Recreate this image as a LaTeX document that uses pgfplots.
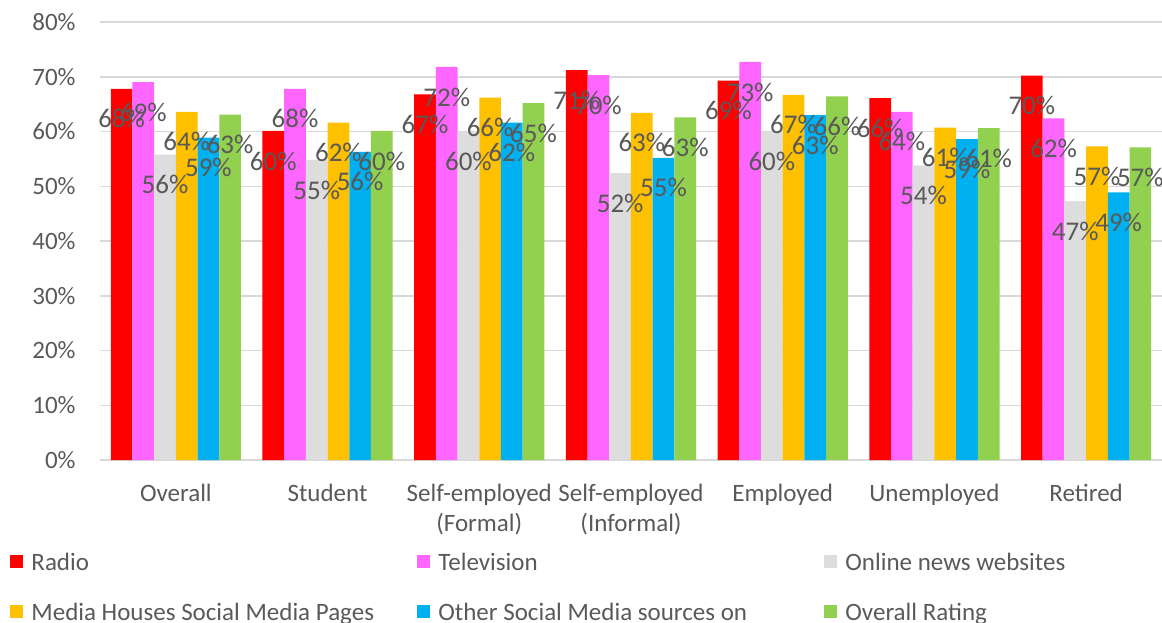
\documentclass[border=0pt]{standalone}
\usepackage{fontspec}
\setmainfont{Carlito}
\usepackage{pgfplots}
\usepackage{pgfplotstable}
\pgfplotsset{compat=1.18}

\definecolor{cRadio}{HTML}{FF0000}
\definecolor{cTV}{HTML}{FF66FF}
\definecolor{cOnline}{HTML}{DDDDDD}
\definecolor{cMedia}{HTML}{FFC000}
\definecolor{cOther}{HTML}{00B0F0}
\definecolor{cOverall}{HTML}{92D050}
\definecolor{txt}{HTML}{595959}
\definecolor{gridc}{HTML}{D9D9D9}

% trust in sources by occupation, per cent
\pgfplotstableread{
x radio tv online media other overall
0 67.8 69.0 55.8 63.6 58.9 63.1
1 60.1 67.8 54.8 61.6 56.3 60.1
2 66.8 71.8 60.1 66.2 61.6 65.2
3 71.2 70.3 52.4 63.4 55.2 62.6
4 69.3 72.7 60.1 66.7 63.0 66.4
5 66.1 63.6 53.8 60.7 58.6 60.6
6 70.2 62.4 47.3 57.3 48.9 57.1
}\datatable

\newcommand{\lbox}[1]{\makebox[193pt][l]{#1}}

\begin{document}
\begin{tikzpicture}[font=\fontsize{12.5}{15}\selectfont]
\begin{axis}[
  at={(0,0)}, anchor=south west,
  scale only axis, width=531pt, height=219pt,
  set layers, mark layer=axis foreground,
  ybar=0pt, bar width=10.85pt,
  xmin=-0.5, xmax=6.5, ymin=0, ymax=80,
  xtick=data,
  xticklabels={Overall, Student, Self-employed\\(Formal), Self-employed\\(Informal), Employed, Unemployed, Retired},
  xticklabel style={align=center, anchor=north, inner sep=0pt, yshift=-12pt, text=txt},
  ytick={0,10,...,80},
  yticklabel={\pgfmathprintnumber{\tick}\%},
  yticklabel style={anchor=east, inner sep=0pt, xshift=-12pt, text=txt},
  /pgf/number format/assume math mode=true,
  major tick length=0pt,
  ymajorgrids, grid style={gridc, line width=0.75pt},
  axis x line*=bottom, axis y line*=left,
  y axis line style={draw=none},
  x axis line style={gridc, line width=0.9pt},
  point meta=y,
  nodes near coords={\fontsize{13.5}{16}\selectfont\pgfmathprintnumber[fixed,precision=0]{\pgfplotspointmeta}\%},
  every node near coord/.append style={anchor=center, yshift=-15pt, text=txt, inner sep=0pt},
  legend columns=3,
  legend style={at={(-0.0847,-0.211)}, anchor=north west, draw=none, fill=none,
    inner sep=0pt, row sep=13pt,
    nodes={inner sep=0pt, text height=9pt, text depth=3pt, text=txt},
    /tikz/every odd column/.append style={column sep=4pt},
    /tikz/every even column/.append style={column sep=0pt}},
  legend image code/.code={\fill[#1] (0pt,-1.8pt) rectangle (6.5pt,4.7pt);},
]
\addplot[fill=cRadio, draw=none] table[x=x, y=radio] {\datatable};
\addlegendentry{\lbox{Radio}}
\addplot[fill=cTV, draw=none] table[x=x, y=tv] {\datatable};
\addlegendentry{\lbox{Television}}
\addplot[fill=cOnline, draw=none] table[x=x, y=online] {\datatable};
\addlegendentry{\lbox{Online news websites}}
\addplot[fill=cMedia, draw=none] table[x=x, y=media] {\datatable};
\addlegendentry{\lbox{Media Houses Social Media Pages}}
\addplot[fill=cOther, draw=none] table[x=x, y=other] {\datatable};
\addlegendentry{\lbox{Other Social Media sources on}}
\addplot[fill=cOverall, draw=none] table[x=x, y=overall] {\datatable};
\addlegendentry{\lbox{Overall Rating}}
\end{axis}
\pgfresetboundingbox
\path[use as bounding box] (-50pt,-81pt) rectangle (531pt,230pt);
\end{tikzpicture}
\end{document}
